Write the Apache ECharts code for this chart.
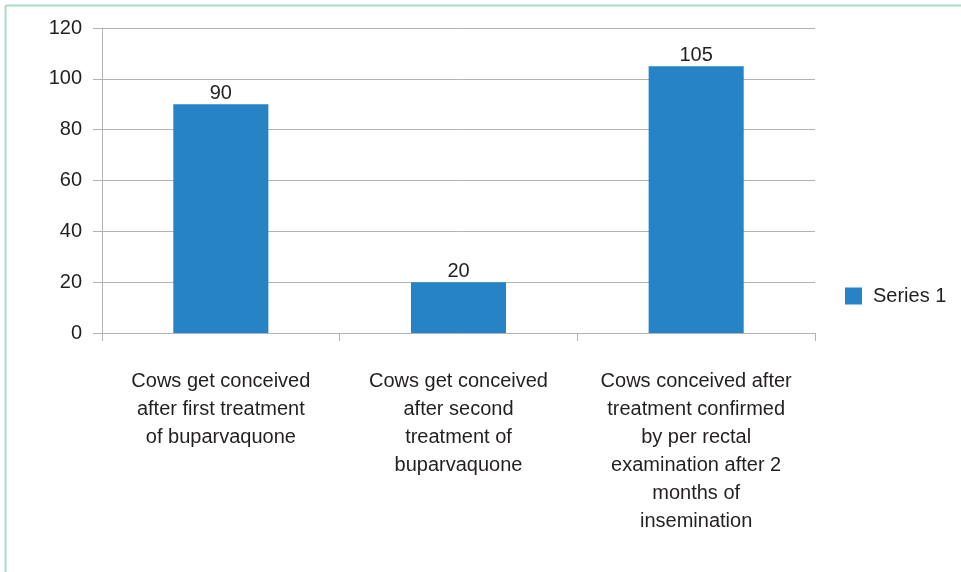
<!DOCTYPE html>
<html>
<head>
<meta charset="utf-8">
<script src="https://cdn.jsdelivr.net/npm/echarts@6/dist/echarts.min.js"></script>
<style>
  html, body { margin: 0; padding: 0; background: #fff; }
  #chart { width: 961px; height: 572px; }
</style>
</head>
<body>
<div id="chart"></div>
<script>
// Categories (line breaks as laid out under the axis)
const categories = [
  'Cows get conceived\nafter first treatment\nof buparvaquone',
  'Cows get conceived\nafter second\ntreatment of\nbuparvaquone',
  'Cows conceived after\ntreatment confirmed\nby per rectal\nexamination after 2\nmonths of\ninsemination'
];
const seriesName = 'Series 1';
const seriesValues = [90, 20, 105];
const yTicks = [0, 20, 40, 60, 80, 100, 120];

const FONT = '"Liberation Sans", Arial, sans-serif';
const chart = echarts.init(document.getElementById('chart'), null, { renderer: 'canvas' });

chart.setOption({
  animation: false,
  backgroundColor: '#ffffff',
  textStyle: { fontFamily: FONT },
  graphic: [
    { type: 'line', shape: { x1: 5.5, y1: 5.5, x2: 961, y2: 5.5 }, style: { stroke: '#a9dcc1', lineWidth: 2 } },
    { type: 'line', shape: { x1: 5.5, y1: 5.5, x2: 5.5, y2: 572 }, style: { stroke: '#a9dcc1', lineWidth: 2 } }
  ],
  legend: {
    orient: 'vertical',
    left: 840,
    top: 281,
    itemWidth: 17,
    itemHeight: 17,
    itemGap: 10,
    icon: 'rect',
    textStyle: { fontSize: 20, color: '#231f20', fontFamily: FONT, padding: [0, 0, 0, 6] },
    data: [seriesName]
  },
  grid: { left: 102, right: 146, top: 28, bottom: 239, containLabel: false },
  xAxis: {
    type: 'category',
    data: categories,
    axisLine: { show: true, lineStyle: { color: '#b3b3b3', width: 1 } },
    axisTick: { show: true, alignWithLabel: false, length: 8, lineStyle: { color: '#b3b3b3' } },
    axisLabel: {
      interval: 0,
      margin: 34,
      fontSize: 20,
      lineHeight: 28,
      color: '#231f20',
      fontFamily: FONT
    }
  },
  yAxis: {
    type: 'value',
    min: yTicks[0],
    max: yTicks[yTicks.length - 1],
    interval: 20,
    axisLine: { show: true, lineStyle: { color: '#b3b3b3' } },
    axisTick: { show: true, length: 9, lineStyle: { color: '#b3b3b3' } },
    splitLine: { show: true, lineStyle: { color: '#b3b3b3', width: 1 } },
    axisLabel: { fontSize: 20, color: '#231f20', margin: 20, fontFamily: FONT }
  },
  series: [{
    name: seriesName,
    type: 'bar',
    data: seriesValues,
    barWidth: '40%',
    itemStyle: { color: '#2683c6' },
    label: {
      show: true,
      position: 'top',
      distance: 1,
      fontSize: 20,
      color: '#231f20',
      fontFamily: FONT
    }
  }]
});
</script>
</body>
</html>
